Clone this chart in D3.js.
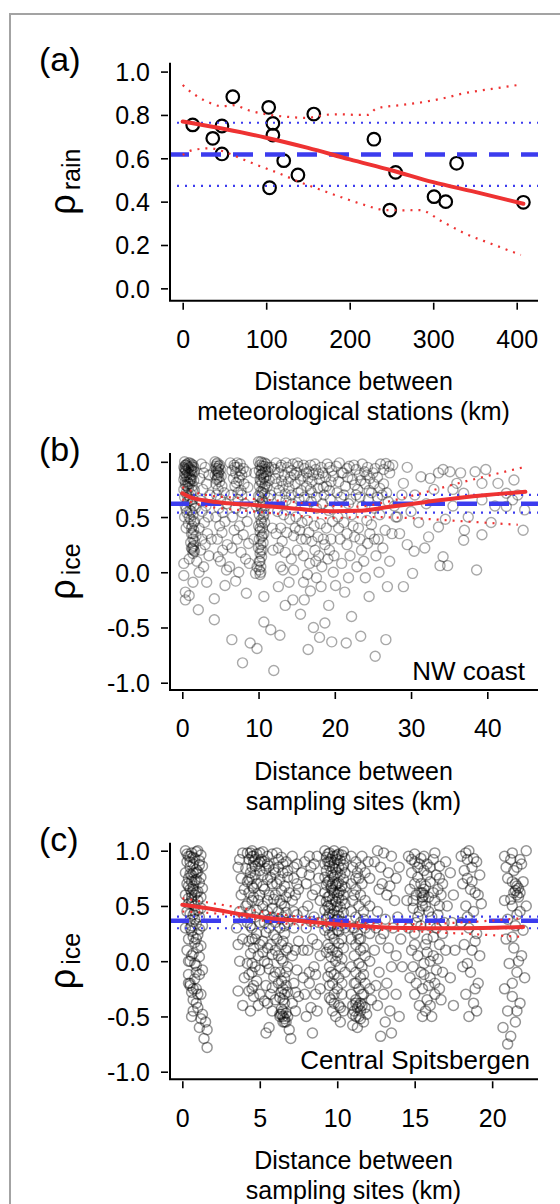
<!DOCTYPE html>
<html><head><meta charset="utf-8">
<script src="https://cdn.jsdelivr.net/npm/d3@7"></script>
<style>
body{margin:0;background:#fff}
svg{display:block}
text{font-family:"Liberation Sans",Arial,sans-serif;fill:#000}
</style>
</head><body>
<svg id="chart" width="560" height="1204"></svg>
<script>
// ---------------- DATA ----------------
// Panel (a): rain correlation vs distance between meteorological stations
const rainPts = [[12,0.754],[36,0.692],[47,0.749],[47,0.62],[60,0.884],[103,0.835],[108,0.761],[108,0.707],[104,0.464],[121,0.589],[138,0.523],[157,0.804],[229,0.688],[248,0.361],[255,0.535],[301,0.423],[315,0.4],[328,0.577],[408,0.397]];
const rainFit = [[0,0.77],[50,0.735],[100,0.695],[150,0.648],[200,0.595],[250,0.545],[300,0.49],[350,0.445],[408,0.39]];
const rainHi = [[0,0.938],[12,0.9],[30,0.86],[47,0.84],[60,0.845],[80,0.82],[105,0.8],[130,0.79],[148,0.786],[170,0.8],[188,0.803],[210,0.8],[222,0.8],[232,0.83],[260,0.845],[284,0.857],[310,0.875],[337,0.9],[370,0.92],[405,0.94]];
const rainLo = [[0,0.615],[12,0.638],[33,0.646],[50,0.63],[65,0.607],[85,0.575],[105,0.546],[125,0.515],[144,0.485],[165,0.455],[188,0.423],[212,0.392],[244,0.361],[265,0.36],[284,0.361],[310,0.31],[337,0.255],[370,0.205],[405,0.154]];
const rainRef = [0.618, 0.764, 0.473]; // mean, upper, lower

// Panel (b): ice correlation, NW coast
const nwPts = [
[0.3,1.0],[0.6,0.98],[1.0,0.99],[1.4,0.97],[0.2,0.95],[0.8,0.94],[1.2,0.93],[0.5,0.92],[1.6,0.91],[0.3,0.9],[0.9,0.89],[1.3,0.88],[0.6,0.86],[1.1,0.85],[0.2,0.84],[1.5,0.83],[0.7,0.82],[1.0,0.8],[0.4,0.79],[1.3,0.78],[0.8,0.76],[0.2,0.75],[1.6,0.74],[0.5,0.72],[1.1,0.71],[0.9,0.69],[0.3,0.68],[1.4,0.66],[0.7,0.64],[1.2,0.62],[0.4,0.6],[1.7,0.58],[1.0,0.56],[0.6,0.54],[1.4,0.52],[0.3,0.5],[1.1,0.48],[1.6,0.46],[0.8,0.44],[1.3,0.42],[0.5,0.4],[1.5,0.38],[1.2,0.35],[1.8,0.33],[1.4,0.3],[1.1,0.27],[1.5,0.24],[1.3,0.21],[1.6,0.19],[1.4,0.23],[0.2,0.08],[0.9,0.12],[0.2,-0.03],[1.4,-0.09],[0.4,-0.18],[0.4,-0.25],[2.1,-0.34],[0.9,-0.21],[1.9,0.1],[2.2,0.0],
[0.5,0.97],[1.2,0.96],[0.9,0.95],[0.4,0.93],[1.5,0.95],[0.7,0.9],[1.1,0.92],[0.3,0.87],[1.0,0.83],[0.6,0.78],
[2.5,0.98],[3.0,0.95],[2.8,0.9],[3.5,0.88],[2.3,0.85],[3.2,0.8],[2.7,0.75],[3.6,0.7],[2.4,0.65],[3.1,0.6],[2.6,0.55],[3.4,0.5],[2.9,0.45],[2.2,0.4],[3.3,0.35],[2.6,0.3],[3.0,0.25],[2.4,0.2],[3.5,0.15],[3.2,-0.09],[2.8,0.05],[3.8,0.3],
[4.3,1.0],[4.6,0.99],[4.9,0.97],[4.4,0.96],[4.7,0.94],[5.0,0.93],[4.5,0.92],[4.8,0.9],[4.3,0.88],[5.1,0.87],[4.6,0.85],[4.9,0.82],[4.4,0.8],[5.2,0.78],[4.7,0.75],[5.5,0.72],[4.5,0.7],[5.0,0.66],[5.8,0.62],[4.8,0.58],[5.3,0.54],[4.4,0.5],[5.6,0.46],[4.9,0.42],[5.2,0.36],[4.6,0.3],[5.9,0.25],[5.3,0.2],[4.2,-0.43],[4.2,-0.24],[5.6,-0.12],[5.0,0.1],[5.8,0.02],[4.7,0.14],
[6.3,0.99],[6.8,0.97],[7.2,0.95],[7.6,0.98],[8.0,0.94],[6.5,0.92],[7.0,0.9],[7.8,0.88],[8.4,0.91],[6.7,0.85],[7.4,0.83],[8.1,0.8],[6.9,0.78],[7.7,0.74],[8.6,0.77],[6.4,0.7],[7.3,0.66],[8.2,0.62],[7.0,0.58],[7.9,0.54],[6.6,0.5],[8.5,0.46],[7.5,0.42],[6.8,0.38],[8.0,0.34],[7.2,0.3],[8.7,0.26],[6.5,0.22],[7.7,0.18],[8.3,0.12],[7.0,-0.08],[8.4,-0.19],[6.5,-0.61],[7.9,-0.82],[8.9,-0.64],[6.2,0.05],[7.4,0.0],[8.8,0.08],
[10.0,1.0],[10.5,0.99],[11.0,0.98],[10.2,0.97],[10.8,0.96],[11.3,0.95],[10.4,0.94],[10.9,0.93],[10.1,0.92],[11.2,0.91],[10.6,0.9],[10.3,0.88],[11.0,0.87],[10.7,0.85],[10.2,0.84],[11.4,0.83],[10.5,0.81],[10.9,0.8],[10.1,0.78],[11.1,0.77],[10.6,0.75],[10.3,0.73],[10.8,0.71],[10.0,0.69],[11.3,0.67],[10.5,0.65],[10.2,0.62],[10.9,0.6],[10.4,0.57],[10.7,0.55],[10.1,0.52],[10.6,0.5],[10.3,0.47],[10.8,0.45],[10.0,0.42],[10.5,0.4],[10.2,0.37],[10.7,0.35],[10.4,0.32],[10.1,0.3],[10.6,0.27],[10.3,0.25],[10.0,0.22],[10.5,0.2],[10.2,0.17],[10.4,0.14],[10.1,0.1],[10.3,0.05],[10.1,0.02],[10.2,-0.02],[9.8,0.05],[9.6,-0.01],[10.7,-0.22],[9.8,-0.69],[10.7,-0.45],[11.6,-0.52],[9.4,0.3],[9.7,0.6],[11.8,0.4],[11.6,0.7],[9.5,0.9],[11.7,0.95],[11.9,0.2],
[12.3,0.99],[13.0,0.97],[13.8,0.95],[14.5,0.98],[15.2,0.96],[16.0,0.94],[16.8,0.97],[17.5,0.93],[18.2,0.95],[19.0,0.98],[19.6,0.92],[12.6,0.9],[13.4,0.88],[14.2,0.86],[15.0,0.9],[15.8,0.87],[16.5,0.85],[17.2,0.88],[18.0,0.84],[18.8,0.86],[19.5,0.82],[12.4,0.8],[13.2,0.78],[14.0,0.76],[14.8,0.8],[15.6,0.74],[16.3,0.78],[17.0,0.72],[17.8,0.76],[18.6,0.7],[19.3,0.74],[12.8,0.68],[13.6,0.65],[14.4,0.62],[15.3,0.66],[16.1,0.6],[16.9,0.64],[17.6,0.58],[18.4,0.62],[19.2,0.56],[12.5,0.55],[13.3,0.52],[14.1,0.48],[14.9,0.5],[15.7,0.45],[16.4,0.47],[17.3,0.42],[18.1,0.44],[18.9,0.4],[19.7,0.46],[12.9,0.4],[13.7,0.36],[14.6,0.33],[15.4,0.38],[16.2,0.3],[17.0,0.28],[17.8,0.32],[18.7,0.25],[19.5,0.3],[12.6,0.22],[13.5,0.18],[14.3,0.12],[15.1,0.2],[15.9,0.15],[16.7,0.08],[17.5,0.1],[18.3,0.05],[19.1,0.12],[19.8,0.0],[12.6,-0.13],[14.0,-0.09],[14.5,-0.25],[15.9,-0.09],[16.8,-0.17],[18.2,-0.13],[12.8,-0.57],[12.0,-0.89],[18.0,-0.59],[19.6,-0.63],[18.7,-0.46],[13.5,-0.3],[15.5,-0.38],[17.2,-0.5],[16.0,-0.25],[13.2,0.02],[17.6,-0.05],[19.2,-0.3],[16.5,-0.7],
[20.2,0.96],[21.1,0.9],[21.6,0.94],[22.5,0.97],[23.2,0.88],[23.9,0.91],[24.6,0.85],[25.3,0.94],[26.0,0.98],[26.7,0.985],[27.6,0.97],[20.5,0.82],[21.4,0.78],[22.3,0.84],[23.0,0.75],[24.0,0.8],[24.8,0.72],[25.6,0.86],[26.4,0.8],[27.2,0.9],[20.8,0.68],[21.8,0.62],[22.8,0.7],[23.6,0.6],[24.4,0.66],[25.2,0.58],[26.2,0.7],[27.0,0.64],[27.8,0.6],[20.4,0.5],[21.2,0.45],[22.2,0.52],[23.1,0.4],[24.2,0.47],[24.8,0.43],[25.9,0.52],[26.6,0.38],[28.0,0.5],[20.7,0.3],[21.6,0.25],[22.6,0.32],[23.5,0.2],[24.3,0.26],[25.4,0.15],[26.3,0.22],[27.5,0.35],[20.1,-0.12],[21.3,-0.18],[22.2,-0.4],[23.4,-0.58],[25.3,-0.76],[26.7,-0.61],[26.9,-0.13],[24.5,-0.22],[21.5,-0.64],[20.9,0.08],[22.9,0.05],[24.0,-0.05],[25.8,0.0],[22.0,0.15],[27.2,0.1],
[29.0,0.805],[31.3,0.865],[33.6,0.9],[34.2,0.93],[35.1,0.91],[36.5,0.9],[38.4,0.91],[39.8,0.93],[36.0,0.805],[36.9,0.715],[41.4,0.805],[43.5,0.835],[43.3,0.655],[44.9,0.565],[39.3,0.655],[42.5,0.715],[42.5,0.595],[39.3,0.805],[29.5,0.95],[30.5,0.7],[32.0,0.62],[33.0,0.75],[35.5,0.6],[37.5,0.5],[40.5,0.45],[29.0,-0.13],[30.2,-0.01],[38.6,0.02],[34.2,0.14],[34.8,0.06],[33.8,0.06],[39.3,0.34],[44.7,0.38],[36.9,0.29],[31.8,0.22],[30.4,0.19],[29.5,0.25],[32.3,0.32],[33.6,0.41],[28.5,0.35],[28.2,0.5],[30.0,0.55],[31.0,0.45],[34.5,0.48],[37.0,0.38],[41.0,0.6],[44.0,0.7],[28.8,0.7],[32.5,0.85],[35.5,0.75]
];
const nwPtsMore = [
[12.1,0.93],[12.9,0.95],[13.6,0.99],[14.3,0.92],[15.1,0.99],[15.9,0.97],[16.6,0.91],[17.4,0.98],[18.4,0.9],[19.3,0.95],[20.6,0.99],[21.9,0.96],[22.8,0.93],[23.6,0.98],[24.3,0.95],[25.0,0.9],[26.4,0.93],[27.1,0.96],[12.2,0.85],[13.0,0.83],[13.9,0.82],[14.7,0.88],[15.5,0.84],[16.3,0.9],[17.0,0.82],[17.9,0.89],[18.9,0.78],[19.8,0.87],[20.9,0.9],[21.7,0.86],[22.6,0.79],[23.4,0.83],[24.2,0.88],[25.1,0.8],[25.9,0.76],[12.7,0.74],[13.5,0.71],[14.3,0.7],[15.2,0.72],[16.0,0.68],[16.8,0.75],[17.6,0.68],[18.5,0.77],[19.4,0.66],[20.3,0.72],[21.2,0.7],[22.1,0.66],[23.3,0.68],[24.5,0.74],[25.6,0.68],[26.8,0.72],
[12.3,0.35],[13.1,0.28],[14.8,0.4],[15.6,0.3],[16.6,0.36],[17.4,0.2],[18.5,0.3],[19.3,0.2],[20.5,0.4],[21.6,0.35],[22.4,0.42],[23.3,0.3],[24.6,0.35],[25.7,0.3],[12.9,0.05],[14.6,0.02],[16.4,-0.02],[17.9,0.15],[19.9,0.15],[21.8,-0.05],[23.8,0.1],[25.2,0.3],
[0.4,0.97],[0.8,0.99],[1.2,0.98],[0.3,0.94],[0.7,0.96],[1.3,0.92],[0.5,0.88],[0.9,0.86],[1.2,0.84],[0.4,0.82],[0.8,0.8],[1.3,0.74],[0.6,0.7],[1.0,0.65],[1.5,0.6],[0.5,0.57],[1.2,0.55],[0.9,0.5],[1.5,0.45],[1.2,0.4],[1.4,0.35],[1.6,0.28],[1.2,0.22],[1.5,0.2],[1.4,0.17],
[10.3,1.0],[10.8,0.99],[10.5,0.96],[10.9,0.91],[10.4,0.89],[10.7,0.86],[10.3,0.82],[10.8,0.78],[10.5,0.72],[10.2,0.68],[10.6,0.63],[10.3,0.59],[10.7,0.52],[10.4,0.45],[10.2,0.4],[10.5,0.33],[10.3,0.2],[10.2,0.1],[10.3,0.0],
[4.5,0.98],[4.8,0.96],[4.4,0.94],[4.7,0.91],[4.6,0.88],[4.5,0.84],[4.8,0.86],
[7.2,0.99],[7.6,0.92],[6.9,0.95],[7.5,0.86],[7.1,0.81],[7.8,0.7],[7.3,0.72]
];
const nwFit = [[0,0.715],[1,0.68],[3,0.65],[6,0.625],[10,0.605],[15,0.575],[20,0.552],[23,0.556],[27,0.59],[32,0.637],[37,0.68],[45,0.728]];
const nwHi = [[0,0.77],[3,0.7],[8,0.67],[14,0.64],[19,0.6],[23,0.595],[27,0.64],[30.5,0.7],[37,0.82],[45,0.955]];
const nwLo = [[0,0.66],[3,0.6],[8,0.56],[14,0.52],[19,0.49],[24,0.5],[30,0.49],[36,0.465],[44,0.43]];
const nwRef = [0.62, 0.70, 0.54];

// Panel (c): ice correlation, Central Spitsbergen
const csPts = [
[0.2,1.0],[0.6,0.98],[1.0,1.0],[0.4,0.95],[0.8,0.93],[1.2,0.96],[0.3,0.9],[0.7,0.88],[1.1,0.91],[0.5,0.85],[0.9,0.83],[1.3,0.86],[0.2,0.8],[0.6,0.78],[1.0,0.81],[0.4,0.75],[0.8,0.73],[1.2,0.76],[0.3,0.7],[0.7,0.68],[1.1,0.71],[0.5,0.65],[0.9,0.62],[1.3,0.66],[0.2,0.6],[0.6,0.58],[1.0,0.55],[0.4,0.52],[0.8,0.5],[1.2,0.48],[0.3,0.45],[0.7,0.42],[1.1,0.4],[0.5,0.37],[0.9,0.34],[1.3,0.32],[0.2,0.3],[0.6,0.27],[1.0,0.24],[0.4,0.2],[0.8,0.17],[1.2,0.14],[0.3,0.1],[0.7,0.07],[1.1,0.04],[0.5,0.0],[0.9,-0.04],[1.3,-0.08],[0.4,-0.12],[0.8,-0.16],[0.5,-0.2],[0.9,-0.25],[1.2,-0.3],[0.7,-0.35],[1.0,-0.42],[1.3,-0.48],[1.5,-0.55],[1.6,-0.62],[1.4,-0.7],[1.6,-0.78],[0.6,-0.5],[1.1,-0.6],[0.6,0.62],[0.7,0.8],[0.5,0.95],[0.9,0.99],[0.4,-0.2],[0.5,-0.22],[0.7,0.65],[0.6,0.55],
[3.6,0.85],[3.8,0.6],[3.5,0.3],[3.7,0.0],[3.6,-0.27],[3.9,-0.4],[3.8,0.75],[3.7,0.45],[3.6,0.15],
[4.2,0.98],[4.5,1.0],[4.8,0.97],[4.3,0.92],[4.6,0.9],[4.9,0.88],[4.1,0.84],[4.4,0.8],[4.7,0.78],[5.0,0.82],[4.2,0.72],[4.5,0.68],[4.8,0.7],[4.3,0.62],[4.6,0.58],[4.9,0.55],[4.1,0.5],[4.4,0.45],[4.7,0.4],[4.2,0.35],[4.5,0.3],[4.8,0.25],[4.3,0.18],[4.6,0.12],[4.9,0.05],[4.2,-0.02],[4.5,-0.1],[4.8,-0.18],[4.3,-0.27],[4.6,-0.32],[4.9,-0.4],[4.4,-0.45],[4.7,0.92],[4.5,0.85],[4.6,0.95],
[5.2,0.99],[5.5,0.95],[5.8,0.97],[5.3,0.9],[5.6,0.86],[5.9,0.83],[5.2,0.78],[5.5,0.74],[5.8,0.7],[5.3,0.65],[5.6,0.6],[5.9,0.56],[5.2,0.5],[5.5,0.45],[5.8,0.4],[5.3,0.35],[5.6,0.3],[5.9,0.24],[5.2,0.18],[5.5,0.12],[5.8,0.06],[5.3,0.0],[5.6,-0.07],[5.9,-0.14],[5.4,-0.22],[5.7,-0.3],[5.5,-0.38],[5.8,-0.45],[5.6,-0.6],[5.4,-0.65],
[6.1,0.98],[6.4,0.94],[6.7,0.9],[6.2,0.85],[6.5,0.8],[6.8,0.76],[6.1,0.7],[6.4,0.64],[6.7,0.58],[6.3,0.55],[6.6,0.5],[6.2,0.45],[6.5,0.4],[6.8,0.35],[6.3,0.3],[6.6,0.25],[6.1,0.2],[6.4,0.15],[6.7,0.1],[6.2,0.05],[6.5,0.0],[6.8,-0.05],[6.3,-0.1],[6.6,-0.15],[6.2,-0.2],[6.5,-0.25],[6.8,-0.28],[6.3,-0.33],[6.6,-0.38],[6.4,-0.43],[6.7,-0.47],[6.3,-0.5],[6.6,-0.52],[6.5,-0.55],[6.8,-0.5],[6.9,-0.62],[6.6,-0.3],[6.4,-0.28],
[7.1,0.95],[7.4,0.88],[7.2,0.75],[7.5,0.65],[7.1,0.55],[7.4,0.42],[7.2,0.3],[7.5,0.18],[7.1,0.05],[7.4,-0.08],[7.2,-0.2],[7.5,-0.32],[7.3,-0.45],[7.0,-0.7],[7.4,0.7],
[7.9,0.9],[8.3,0.85],[8.7,0.95],[8.0,0.7],[8.4,0.6],[8.8,0.75],[8.1,0.5],[8.5,0.4],[8.9,0.55],[8.0,0.3],[8.4,0.2],[8.8,0.35],[8.1,0.1],[8.5,-0.05],[8.9,0.05],[8.2,-0.2],[8.6,-0.3],[8.3,-0.42],[7.9,-0.3],[8.7,-0.45],[8.4,-0.65],[8.0,-0.5],
[9.2,1.0],[9.5,0.98],[9.8,1.0],[10.1,0.97],[10.4,0.99],[9.3,0.94],[9.6,0.92],[9.9,0.95],[10.2,0.91],[10.5,0.93],[9.2,0.88],[9.5,0.86],[9.8,0.89],[10.1,0.85],[10.4,0.87],[9.3,0.82],[9.6,0.8],[9.9,0.83],[10.2,0.78],[10.5,0.8],[9.2,0.76],[9.5,0.73],[9.8,0.76],[10.1,0.71],[10.4,0.74],[9.3,0.69],[9.6,0.66],[9.9,0.69],[10.2,0.64],[10.5,0.67],[9.2,0.62],[9.5,0.59],[9.8,0.62],[10.1,0.57],[10.4,0.6],[9.3,0.54],[9.6,0.51],[9.9,0.54],[10.2,0.49],[10.5,0.52],[9.2,0.46],[9.5,0.43],[9.8,0.46],[10.1,0.41],[10.4,0.44],[9.3,0.38],[9.6,0.35],[9.9,0.37],[10.2,0.32],[10.5,0.3],[9.2,0.28],[9.5,0.24],[9.8,0.2],[10.1,0.16],[10.4,0.12],[9.3,0.08],[9.6,0.04],[9.9,0.0],[10.2,-0.05],[10.5,-0.1],[9.4,-0.14],[9.7,-0.2],[10.0,-0.25],[10.3,-0.3],[9.5,-0.33],[9.8,-0.3],[9.6,-0.35],[10.1,-0.4],[10.4,-0.45],[9.9,-0.5],[10.2,-0.55],[9.7,0.7],[9.7,0.85],[10.0,0.6],[9.4,0.5],
[10.9,0.95],[11.2,0.9],[11.5,0.85],[11.8,0.8],[12.1,0.75],[10.9,0.7],[11.2,0.65],[11.5,0.6],[11.8,0.55],[12.1,0.5],[10.9,0.45],[11.2,0.4],[11.5,0.35],[11.8,0.3],[12.1,0.25],[10.9,0.2],[11.2,0.15],[11.5,0.1],[11.8,0.05],[12.1,0.0],[10.9,-0.05],[11.2,-0.1],[11.5,-0.15],[11.8,-0.2],[12.1,-0.25],[10.9,-0.3],[11.2,-0.35],[11.5,-0.38],[11.0,-0.4],[11.3,-0.42],[11.6,-0.4],[11.1,-0.45],[11.4,-0.5],[11.7,-0.55],[11.0,-0.58],[11.3,-0.6],[11.9,-0.48],[12.2,-0.35],[11.4,0.75],[11.7,0.45],[11.0,0.55],[11.6,-0.05],[11.3,0.25],
[12.6,1.0],[13.0,0.98],[13.5,0.95],[12.8,0.85],[13.3,0.8],[13.8,0.75],[12.7,0.65],[13.2,0.6],[13.7,0.55],[12.6,0.45],[13.1,0.38],[13.6,0.3],[12.8,0.2],[13.3,0.12],[13.8,0.05],[12.7,-0.1],[13.2,-0.2],[13.0,-0.3],[12.6,-0.4],[13.4,-0.45],[13.1,-0.55],[13.5,-0.65],[12.8,-0.68],
[14.6,0.95],[15.0,0.9],[15.4,0.93],[15.8,0.88],[16.2,0.92],[16.6,0.86],[17.0,0.9],[14.8,0.8],[15.2,0.76],[15.6,0.82],[16.0,0.72],[16.4,0.78],[16.8,0.7],[14.7,0.65],[15.1,0.6],[15.5,0.62],[15.9,0.58],[16.3,0.55],[16.7,0.6],[17.1,0.5],[14.9,0.48],[15.3,0.45],[15.7,0.5],[16.1,0.4],[16.5,0.42],[16.9,0.35],[14.6,0.3],[15.0,0.25],[15.4,0.32],[15.8,0.2],[16.2,0.22],[16.6,0.15],[17.0,0.1],[14.8,0.1],[15.2,0.05],[15.6,-0.02],[16.0,0.0],[16.4,-0.08],[16.8,-0.1],[14.7,-0.15],[15.1,-0.2],[15.5,-0.25],[15.9,-0.22],[16.3,-0.3],[16.7,-0.35],[15.3,-0.4],[15.7,-0.45],[16.1,-0.5],[15.5,0.58],[15.6,0.65],[15.4,0.7],[14.5,0.55],
[18.0,0.95],[18.5,1.0],[19.0,0.9],[18.2,0.82],[18.7,0.85],[19.2,0.78],[18.1,0.7],[18.6,0.65],[19.1,0.6],[18.3,0.5],[18.8,0.45],[19.3,0.52],[18.0,0.35],[18.5,0.3],[19.0,0.25],[18.2,0.15],[18.7,0.1],[19.2,0.05],[18.1,-0.05],[18.6,-0.1],[19.1,-0.2],[18.3,-0.3],[18.8,-0.38],[18.5,-0.5],[19.0,-0.45],[18.7,0.72],[18.4,0.92],
[20.8,0.95],[21.3,0.98],[21.8,0.92],[22.2,1.0],[20.9,0.85],[21.4,0.82],[21.9,0.88],[21.0,0.75],[21.5,0.7],[21.7,0.66],[21.4,0.62],[21.6,0.6],[22.0,0.72],[20.8,0.55],[21.3,0.5],[21.8,0.45],[21.0,0.38],[21.5,0.32],[22.0,0.28],[20.9,0.2],[21.4,0.12],[21.9,0.05],[21.1,-0.02],[21.6,-0.1],[22.1,-0.15],[20.8,-0.25],[21.3,-0.32],[21.8,-0.38],[21.0,-0.45],[21.5,-0.55],[20.7,-0.6],[21.2,-0.68],[21.0,-0.75],[22.2,0.5],[21.7,0.58]
];
const csPtsMore = [
[0.3,0.97],[0.7,0.94],[1.1,0.87],[0.5,0.79],[0.9,0.74],[0.4,0.68],[0.8,0.6],[1.2,0.58],[0.6,0.52],[1.0,0.46],[0.5,0.43],[0.8,0.38],[0.6,0.32],[1.1,0.29],[0.7,0.22],[1.0,0.12],[0.6,0.05],[0.8,-0.02],[1.1,-0.12],[0.6,-0.28],[0.9,-0.38],[0.7,-0.45],[1.2,-0.52],
[3.7,0.92],[4.0,0.65],[3.9,0.2],[4.0,-0.15],[4.4,0.98],[4.7,0.86],[4.3,0.74],[4.6,0.66],[4.2,0.52],[4.8,0.46],[4.4,0.32],[4.7,0.2],[4.4,0.07],[4.7,-0.05],[4.3,-0.12],[4.6,-0.22],[5.1,0.92],[5.4,0.84],[5.7,0.76],[5.2,0.68],[5.5,0.55],[5.8,0.48],[5.3,0.42],[5.6,0.38],[5.4,0.26],[5.7,0.15],[5.2,0.08],[5.5,-0.02],[5.8,-0.24],[5.3,-0.36],[6.2,0.92],[6.5,0.88],[6.8,0.82],[6.3,0.74],[6.6,0.68],[6.9,0.62],[6.4,0.52],[6.7,0.44],[6.3,0.38],[6.6,0.32],[6.5,0.18],[6.8,0.12],[6.4,0.02],[6.7,-0.1],[6.4,-0.18],[6.7,-0.22],[6.5,-0.35],[6.4,-0.48],[6.7,-0.55],[6.5,-0.5],[7.2,0.85],[7.3,0.6],[7.2,0.45],[7.3,0.1],[7.1,-0.38],[7.3,-0.28],
[9.4,0.97],[9.7,0.95],[10.0,0.92],[10.3,0.96],[9.4,0.9],[9.7,0.78],[10.0,0.8],[10.3,0.84],[9.4,0.72],[9.7,0.64],[10.0,0.7],[10.3,0.68],[9.4,0.58],[9.7,0.56],[10.0,0.5],[10.3,0.55],[9.4,0.4],[9.7,0.42],[10.0,0.38],[10.3,0.36],[9.4,0.3],[9.7,0.25],[10.0,0.28],[10.3,0.2],[9.4,0.15],[9.7,0.1],[10.0,0.08],[10.3,0.02],[9.5,-0.05],[9.8,-0.12],[10.1,-0.15],[9.5,-0.22],[9.8,-0.38],[10.2,-0.42],[9.7,-0.45],
[11.0,0.85],[11.3,0.8],[11.6,0.7],[11.1,0.6],[11.4,0.5],[11.7,0.38],[11.1,0.3],[11.4,0.2],[11.7,0.12],[11.1,0.05],[11.4,-0.02],[11.7,-0.12],[11.1,-0.2],[11.4,-0.25],[11.7,-0.3],[11.2,-0.38],[11.5,-0.45],[11.2,-0.5],[11.5,-0.52],[11.8,-0.42],
[15.0,0.97],[15.6,0.95],[16.3,0.98],[15.2,0.85],[15.8,0.78],[16.5,0.65],[15.5,0.55],[15.6,0.6],[15.4,0.62],[15.9,0.45],[16.4,0.3],[15.1,0.35],[15.7,0.15],[16.2,0.05],[15.4,-0.1],[16.0,-0.15],[15.8,-0.35],[16.6,-0.25],
[18.3,0.98],[18.8,0.93],[18.4,0.75],[18.9,0.62],[18.4,0.4],[18.9,0.18],[18.4,-0.02],[18.9,-0.25],
[21.2,0.92],[21.6,0.85],[21.3,0.72],[21.6,0.68],[21.5,0.64],[21.8,0.62],[21.2,0.56],[21.6,0.42],[21.3,0.22],[21.7,0.0],[21.3,-0.2],[21.6,-0.45]
];
const csPtsExtra = [
[7.7,0.8],[8.2,0.78],[8.6,0.65],[7.8,0.45],[8.3,0.36],[8.7,0.15],[7.8,0.1],[8.2,-0.1],[8.6,-0.12],[7.8,-0.15],[8.9,-0.25],[8.2,0.95],[8.5,0.88],
[12.4,0.9],[12.9,0.7],[13.4,0.68],[14.0,0.85],[12.5,0.3],[13.0,0.25],[13.9,0.4],[14.1,0.2],[12.4,0.1],[13.5,-0.05],[14.2,-0.05],[12.5,-0.22],[13.8,-0.3],[14.0,-0.5],
[17.3,0.8],[17.5,0.6],[17.4,0.35],[17.6,0.1],[17.3,-0.15],[17.5,-0.4],
[14.8,0.92],[15.3,0.88],[16.0,0.85],[16.6,0.75],[15.0,0.7],[15.7,0.68],[16.2,0.62],[14.9,0.55],[15.5,0.5],[16.6,0.5],[15.2,0.4],[16.0,0.32],[16.8,0.25],[15.0,0.15],[15.8,0.08],[16.5,0.02],[14.9,-0.05],[15.6,-0.12],[16.3,-0.2],[15.0,-0.3],[16.0,-0.4],[15.5,-0.5],
[0.5,0.9],[0.9,0.8],[0.6,0.72],[1.0,0.63],[0.4,0.57],[0.8,0.45],[0.5,0.3],[0.9,0.2],[0.4,0.0],[0.9,-0.1],[0.7,-0.25],[1.0,-0.3],
[4.5,0.95],[5.0,0.9],[5.5,0.88],[6.0,0.8],[4.5,0.75],[5.0,0.6],[6.0,0.6],[4.5,0.55],[5.0,0.35],[6.0,0.35],[4.5,0.2],[5.0,0.15],[6.0,0.1],[4.5,-0.02],[5.0,-0.08],[6.0,-0.1],[4.5,-0.25],[5.0,-0.3],[6.0,-0.35],[6.5,-0.45],[6.6,-0.55],[6.3,-0.48],[5.0,0.98],[3.9,0.98],[4.0,0.4],
[9.5,0.9],[10.0,0.96],[9.6,0.68],[10.1,0.62],[9.5,0.48],[10.0,0.45],[9.6,0.32],[10.1,0.27],[9.5,0.12],[10.0,0.05],[9.6,-0.1],[10.3,-0.2],[11.0,0.3],[11.5,0.2],[11.2,-0.2],[11.4,-0.4],[11.0,-0.48],[11.6,-0.3],[11.2,0.75],[11.6,0.95],[12.0,0.9]
];
const csFit = [[0,0.51],[2,0.47],[4,0.42],[6,0.385],[8,0.36],[10,0.335],[12,0.315],[15,0.3],[18,0.298],[22,0.31]];
const csHi = [[0,0.57],[3,0.5],[6,0.43],[9,0.38],[12,0.345],[15,0.335],[18,0.35],[22,0.39]];
const csLo = [[0,0.45],[3,0.42],[6,0.35],[9,0.32],[12,0.29],[15,0.27],[18,0.25],[22,0.22]];
const csRef = [0.367, 0.403, 0.298];

const xTicksA = [0,100,200,300,400];
const yTicksA = [0,0.2,0.4,0.6,0.8,1.0];
const xTicksB = [0,10,20,30,40];
const xTicksC = [0,5,10,15,20];
const yTicksBC = [-1,-0.5,0,0.5,1];

// ---------------- DRAWING ----------------
const RED = "#ee3232", BLUE = "#3c3cee";
const svg = d3.select("#chart");
const defs = svg.append("defs");
defs.append("filter").attr("id","soft").attr("x","-5%").attr("y","-5%").attr("width","110%").attr("height","110%")
  .append("feGaussianBlur").attr("stdDeviation",0.5);
svg.append("rect").attr("x",10).attr("y",14).attr("width",600).attr("height",1240)
  .attr("fill","none").attr("stroke","#a3a3a3").attr("stroke-width",2);

function panel(p){
  const x = d3.scaleLinear().domain(p.xd).range([169,538]);
  const y = d3.scaleLinear().domain(p.yd).range([p.bottom,p.top]);
  const [x0,x1] = x.range(); const [yb,yt] = y.range();
  const g = svg.append("g");

  // points
  const pg = g.append("g");
  if(p.soft) pg.attr("filter","url(#soft)");
  pg.selectAll("circle").data(p.pts).join("circle")
    .attr("cx",d=>x(d[0])).attr("cy",d=>y(d[1])).attr("r",p.r)
    .attr("fill","none").attr("stroke",p.ptStroke).attr("stroke-width",p.ptW);

  // reference lines (blue)
  const ref = g.append("g");
  ref.append("line").attr("x1",x0).attr("x2",x1).attr("y1",y(p.ref[1])).attr("y2",y(p.ref[1]))
    .attr("stroke",BLUE).attr("stroke-width",2.2).attr("stroke-dasharray","2,6");
  ref.append("line").attr("x1",x0).attr("x2",x1).attr("y1",y(p.ref[2])).attr("y2",y(p.ref[2]))
    .attr("stroke",BLUE).attr("stroke-width",2.2).attr("stroke-dasharray","2,6");
  ref.append("line").attr("x1",x0).attr("x2",x1).attr("y1",y(p.ref[0])).attr("y2",y(p.ref[0]))
    .attr("stroke",BLUE).attr("stroke-width",4.5).attr("stroke-dasharray","20,12");

  // fit + CI (red)
  const line = d3.line().x(d=>x(d[0])).y(d=>y(d[1])).curve(d3.curveMonotoneX);
  [p.hi,p.lo].forEach(c=>g.append("path").attr("d",line(c)).attr("fill","none")
    .attr("stroke",RED).attr("stroke-width",2.2).attr("stroke-dasharray","2,6"));
  g.append("path").attr("d",line(p.fit)).attr("fill","none").attr("stroke",RED)
    .attr("stroke-width",4).attr("stroke-linecap","round");

  // box (L shape)
  g.append("line").attr("x1",x0+1).attr("x2",x0+1).attr("y1",yt).attr("y2",yb)
    .attr("stroke","#000").attr("stroke-width",2);
  g.append("line").attr("x1",x0).attr("x2",x1).attr("y1",yb).attr("y2",yb)
    .attr("stroke","#000").attr("stroke-width",2);

  // axes
  const ax = g.append("g").attr("transform",`translate(0,${yb+2})`)
    .call(d3.axisBottom(x).tickValues(p.xt).tickSize(7).tickPadding(20.5).tickFormat(p.xfmt));
  const ay = g.append("g").attr("transform",`translate(${x0-1},0)`)
    .call(d3.axisLeft(y).tickValues(p.yt).tickSize(7).tickPadding(11).tickFormat(d=>d.toFixed(1)));
  [ax,ay].forEach(a=>{
    a.select(".domain").remove();
    a.selectAll("line").attr("stroke","#000").attr("stroke-width",1.6);
    a.selectAll("text").attr("font-size",25).attr("font-family","Liberation Sans, Arial, sans-serif").attr("fill","#000");
  });
  ay.selectAll("text").attr("dy","0.36em");

  // axis titles
  p.xtitle.forEach((t,i)=>g.append("text").attr("x",(x0+x1)/2).attr("y",yb+89.5+i*30)
    .attr("text-anchor","middle").attr("font-size",25).text(t));
  const yt2 = g.append("text").attr("transform",`translate(75,${(yt+yb)/2}) rotate(-90)`)
    .attr("text-anchor","middle");
  yt2.append("tspan").attr("font-size",36).text("ρ");
  yt2.append("tspan").attr("font-size",25).attr("dx",4).attr("dy",5).text(p.sub);

  // panel label
  g.append("text").attr("x",39).attr("y",yt+8).attr("font-size",34).text(p.label);

  // annotation
  if(p.note) g.append("text").attr("x",p.noteX).attr("y",yb-10).attr("text-anchor","end")
    .attr("font-size",26).text(p.note);
}

panel({pts:rainPts, fit:rainFit, hi:rainHi, lo:rainLo, ref:rainRef,
  xd:[-16.4,425.5], yd:[-0.057,1.041], top:62.7, bottom:300.7,
  xt:xTicksA, yt:yTicksA, xfmt:d3.format("d"), r:6.3, ptStroke:"#000", ptW:2.2,
  xtitle:["Distance between","meteorological stations (km)"], sub:"rain", label:"(a)"});

panel({pts:nwPts.concat(nwPtsMore), fit:nwFit, hi:nwHi, lo:nwLo, ref:nwRef, soft:true,
  xd:[-1.744,46.65], yd:[-1.066,1.0797], top:453, bottom:690,
  xt:xTicksB, yt:yTicksBC, xfmt:d3.format("d"), r:5, ptStroke:"rgba(0,0,0,0.34)", ptW:1.4,
  xtitle:["Distance between","sampling sites (km)"], sub:"ice", label:"(b)", note:"NW coast", noteX:525});

panel({pts:csPts.concat(csPtsMore, csPtsExtra), fit:csFit, hi:csHi, lo:csLo, ref:csRef, soft:true,
  xd:[-0.86,22.96], yd:[-1.0688,1.0724], top:842.7, bottom:1079.3,
  xt:xTicksC, yt:yTicksBC, xfmt:d3.format("d"), r:5, ptStroke:"rgba(0,0,0,0.42)", ptW:1.5,
  xtitle:["Distance between","sampling sites (km)"], sub:"ice", label:"(c)", note:"Central Spitsbergen", noteX:530});
</script>
</body></html>
